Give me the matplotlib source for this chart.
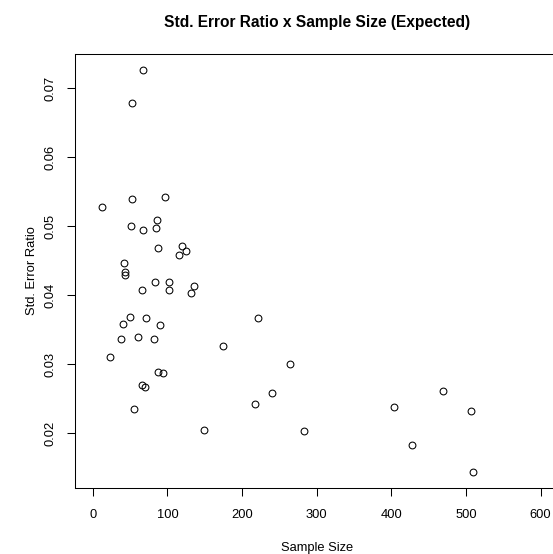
import matplotlib
matplotlib.use("Agg")
import matplotlib.pyplot as plt

sample_size = [68, 52, 53, 97, 12, 51, 68, 86, 85, 88, 119, 125, 116, 42, 43, 43,
               84, 102, 135, 66, 102, 131, 50, 72, 41, 90, 38, 60, 82, 23, 175,
               87, 94, 66, 70, 55, 149, 221, 264, 240, 218, 283, 469, 403, 506,
               428, 510]
se_ratio = [0.0726, 0.0678, 0.0540, 0.0542, 0.0528, 0.0500, 0.0495, 0.0509,
            0.0498, 0.0468, 0.0471, 0.0464, 0.0458, 0.0447, 0.0434, 0.0430,
            0.0419, 0.0419, 0.0414, 0.0407, 0.0407, 0.0403, 0.0368, 0.0367,
            0.0359, 0.0357, 0.0336, 0.0339, 0.0337, 0.0311, 0.0326, 0.0289,
            0.0288, 0.0270, 0.0267, 0.0235, 0.0205, 0.0367, 0.0300, 0.0259,
            0.0243, 0.0204, 0.0262, 0.0238, 0.0233, 0.0183, 0.0144]
x_ticks = [0, 100, 200, 300, 400, 500, 600]
y_ticks = [0.02, 0.03, 0.04, 0.05, 0.06, 0.07]
y_tick_labels = ["0.02", "0.03", "0.04", "0.05", "0.06", "0.07"]

plt.rcParams['font.family'] = ['Liberation Sans', 'DejaVu Sans']
FS = 9.3

W, H = 553, 554
fig = plt.figure(figsize=(W / 100, H / 100), dpi=100)
left_px, right_px, top_px, bot_px = 74.8, 558.6, 54.0, 487.7
ax = fig.add_axes([left_px / W, (H - bot_px) / H, (right_px - left_px) / W, (bot_px - top_px) / H])

ax.plot(sample_size, se_ratio, linestyle='none', marker='o', markersize=4.9,
        markerfacecolor='none', markeredgecolor='black', markeredgewidth=0.75)

ax.set_xlim(-24, 624)
ax.set_ylim(0.012116, 0.074971)
ax.set_xticks(x_ticks)
ax.set_xticklabels([str(v) for v in x_ticks])
ax.set_yticks(y_ticks)
ax.set_yticklabels(y_tick_labels)
for lbl in ax.get_yticklabels():
    lbl.set_rotation(90)
    lbl.set_va('center')
ax.tick_params(axis='both', direction='out', length=5.8, width=0.75, colors='black',
               labelsize=FS)
ax.tick_params(axis='x', pad=9.2)
ax.tick_params(axis='y', pad=7.3)
for s in ax.spines.values():
    s.set_linewidth(0.75)
    s.set_color('black')

cx = (left_px + right_px) / 2 / W
fig.text(cx, 1 - 26.5 / H, "Std. Error Ratio x Sample Size (Expected)",
         ha='center', va='baseline', fontsize=FS * 1.2, fontweight='bold')
fig.text(cx, 1 - 551 / H, "Sample Size", ha='center', va='baseline', fontsize=FS)
fig.text(35 / W, 1 - ((top_px + bot_px) / 2) / H, "Std. Error Ratio", ha='center',
         va='baseline', rotation=90, rotation_mode='anchor', fontsize=FS)

fig.savefig("out.png", dpi=100, facecolor='white')
